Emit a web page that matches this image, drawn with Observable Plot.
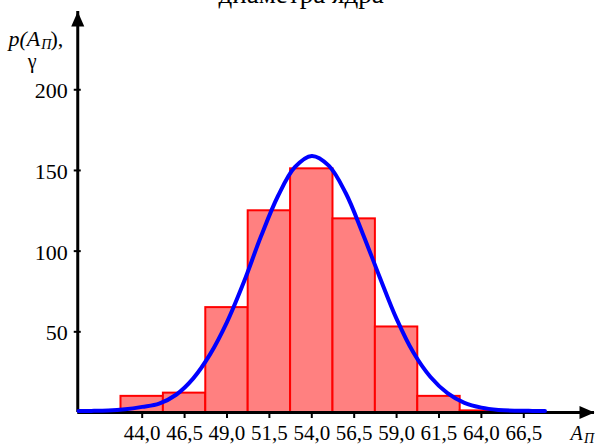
<!DOCTYPE html>
<html><head><meta charset="utf-8">
<script src="https://cdn.jsdelivr.net/npm/d3@7"></script>
<script src="https://cdn.jsdelivr.net/npm/@observablehq/plot@0.6"></script>
<style>html,body{margin:0;padding:0;background:#fff;}</style>
</head><body><div id="chart"></div>
<script>
// Histogram bins (centers) and counts
const binCenters = [44.0, 46.5, 49.0, 51.5, 54.0, 56.5, 59.0, 61.5, 64.0];
const binCounts  = [10, 12, 65, 125, 151, 120, 53, 10, 1];
const binWidth = 2.5;
// Fitted curve
const curveX = [40.25, 41, 42, 43, 44, 45, 46, 47, 48, 49, 50, 51, 52, 53, 54, 55, 56, 57, 58, 59, 60, 61, 62, 63, 64, 65, 66, 67, 67.75];
const curveY = [1, 1, 1.2, 2, 3.5, 5.5, 11, 21, 36, 56, 81, 109, 134, 152, 159, 153, 136, 111, 84, 58, 37, 22, 12, 6, 3, 1.6, 1.1, 1, 1];
// Axis ticks and texts
const xTickValues = [44.0, 46.5, 49.0, 51.5, 54.0, 56.5, 59.0, 61.5, 64.0, 66.5];
const yTickValues = [50, 100, 150, 200];
const titleText = "диаметра ядра";
const xDomain = [40.2, 70.67];
const yDomain = [0, 248.5];

const bars = binCenters.map((c, i) => ({x1: c - binWidth / 2, x2: c + binWidth / 2, y: binCounts[i]}));
const curve = curveX.map((x, i) => ({x, y: curveY[i]}));
const fmt = d => d.toFixed(1).replace(".", ",");
const serif = "Liberation Serif, serif";

const arrowUp = {draw(ctx) { ctx.moveTo(0, 0); ctx.lineTo(6.5, 15); ctx.lineTo(-6.5, 15); ctx.closePath(); }};
const arrowRight = {draw(ctx) { ctx.moveTo(0, 0); ctx.lineTo(-15, 6.5); ctx.lineTo(-15, -6.5); ctx.closePath(); }};

const plot = Plot.plot({
  width: 595, height: 444,
  marginLeft: 77.25, marginRight: 1, marginTop: 11, marginBottom: 32,
  x: {domain: xDomain},
  y: {domain: yDomain},
  style: {background: "white", color: "black", fontFamily: serif},
  marks: [
    Plot.rectY(bars, {x1: "x1", x2: "x2", y: "y", fill: "#ff8080", stroke: "#ff0000", strokeWidth: 2}),
    Plot.ruleY([0], {x1: xDomain[0], x2: xDomain[1], stroke: "black", strokeWidth: 3}),
    Plot.ruleX([xDomain[0]], {y1: 0, y2: yDomain[1], stroke: "black", strokeWidth: 3}),
    Plot.dot([{x: xDomain[0], y: yDomain[1]}], {x: "x", y: "y", symbol: arrowUp, fill: "black", stroke: null, r: 5}),
    Plot.dot([{x: xDomain[1], y: 0}], {x: "x", y: "y", symbol: arrowRight, fill: "black", stroke: null, r: 5}),
    Plot.axisX(xTickValues, {tickSize: 6, strokeWidth: 2, tickPadding: 7, tickFormat: fmt, fontSize: 21, fontFamily: serif, label: null}),
    Plot.axisY(yTickValues, {tickSize: 7, dx: 3.5, strokeWidth: 2, tickFormat: () => "", label: null}),
    Plot.axisY(yTickValues, {tickSize: 0, tickPadding: 10, dy: 1.5, fontSize: 22, fontFamily: serif, label: null}),
    Plot.line(curve, {x: "x", y: "y", stroke: "#0000ff", strokeWidth: 4, curve: "catmull-rom"}),
    // title (cut at top)
    Plot.text([titleText], {frameAnchor: "top", dx: -35, dy: -8.5, lineAnchor: "bottom", fontSize: 27, fontFamily: serif}),
    // y label p(A_П), γ
    Plot.text(["p(A"], {frameAnchor: "top-left", dx: -69.25, dy: 34, textAnchor: "start", lineAnchor: "bottom", fontStyle: "italic", fontSize: 22, fontFamily: serif}),
    Plot.text(["П"], {frameAnchor: "top-left", dx: -36.5, dy: 37, textAnchor: "start", lineAnchor: "bottom", fontStyle: "italic", fontSize: 14, fontFamily: serif}),
    Plot.text(["),"], {frameAnchor: "top-left", dx: -27.25, dy: 34, textAnchor: "start", lineAnchor: "bottom", fontSize: 22, fontFamily: serif}),
    Plot.text(["γ"], {frameAnchor: "top-left", dx: -45.5, dy: 56, textAnchor: "middle", lineAnchor: "bottom", fontSize: 20, fontFamily: serif}),
    // x label A_П
    Plot.text(["A"], {frameAnchor: "bottom-right", dx: -24, dy: 27, textAnchor: "start", lineAnchor: "bottom", fontStyle: "italic", fontSize: 20, fontFamily: serif}),
    Plot.text(["П"], {frameAnchor: "bottom-right", dx: -10.5, dy: 30, textAnchor: "start", lineAnchor: "bottom", fontStyle: "italic", fontSize: 14, fontFamily: serif})
  ]
});
document.getElementById("chart").appendChild(plot);
</script>
</body></html>
